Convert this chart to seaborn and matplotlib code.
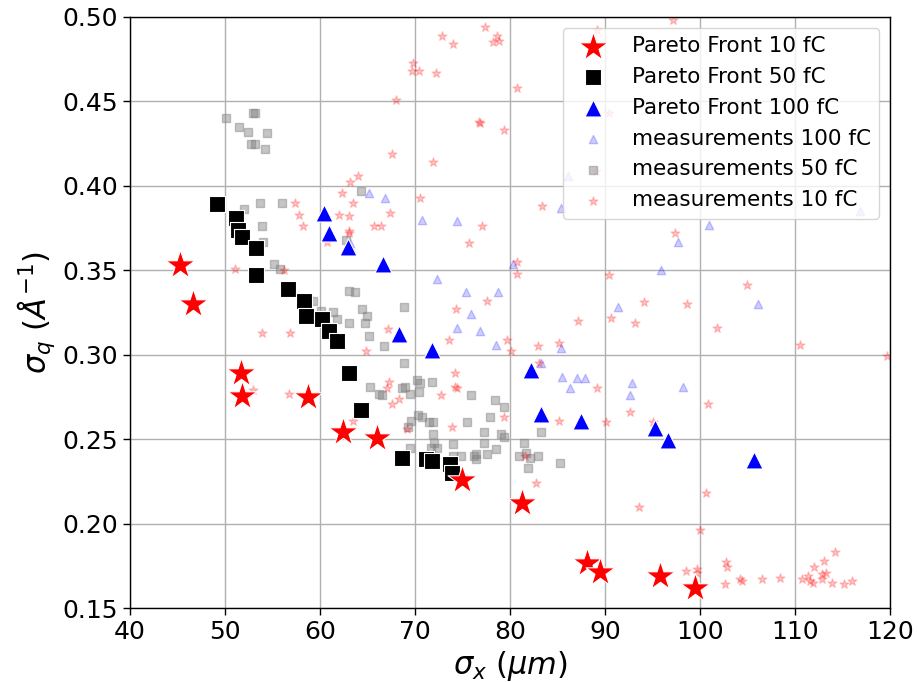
import matplotlib
matplotlib.use("Agg")
import matplotlib.pyplot as plt
import numpy as np
import pandas as pd
import seaborn as sns

# Pareto fronts (sigma_x in um, sigma_q in 1/A)
pareto10_x = [45.3, 46.6, 51.7, 51.8, 58.7, 62.4, 66.0, 74.9, 81.3, 88.1, 89.5, 95.8, 99.5]
pareto10_y = [0.353, 0.330, 0.289, 0.2756, 0.275, 0.254, 0.2507, 0.2258, 0.2122, 0.1767, 0.1713, 0.169, 0.1619]

pareto50_x = [49.2, 51.2, 51.4, 51.8, 53.3, 53.3, 56.6, 58.3, 58.5, 60.2, 60.9, 61.8,
              63.1, 64.3, 68.6, 71.2, 71.8, 73.7, 73.9]
pareto50_y = [0.389, 0.381, 0.374, 0.370, 0.363, 0.347, 0.339, 0.332, 0.323, 0.321, 0.314, 0.308,
              0.289, 0.267, 0.239, 0.238, 0.237, 0.235, 0.230]

pareto100_x = [60.4, 61.0, 63.0, 66.6, 68.3, 71.8, 82.2, 83.3, 87.5, 95.3, 96.6, 105.7]
pareto100_y = [0.384, 0.372, 0.364, 0.354, 0.312, 0.303, 0.291, 0.265, 0.261, 0.2565, 0.2496, 0.2377]

# all measurements
meas50_x = [50.1, 51.5, 52.4, 52.9, 53.2, 54.4, 52.7, 53.2, 54.2, 52.0, 53.7, 56.0, 64.3, 53.9,
            54.0, 62.7, 55.2, 55.8, 59.3, 60.1, 61.4, 61.8, 63.1, 63.7, 64.4, 64.9, 64.7, 63.1,
            65.2, 66.7, 68.8, 68.8, 65.3, 66.2, 68.6, 68.9, 69.5, 70.2, 70.5, 70.4, 71.8, 66.5,
            75.9, 78.4, 79.4, 70.3, 70.7, 69.6, 69.3, 71.5, 71.9, 75.5, 77.9, 71.9, 72.0, 71.7,
            72.3, 74.0, 77.3, 77.3, 78.5, 79.1, 79.4, 77.6, 76.4, 76.2, 76.4, 74.8, 69.5, 81.5,
            81.7, 82.1, 80.9, 82.9, 81.9, 83.3, 85.3, 74.0, 68.6]
meas50_y = [0.440, 0.435, 0.432, 0.443, 0.443, 0.431, 0.425, 0.425, 0.422, 0.386, 0.390, 0.390, 0.397, 0.376,
            0.367, 0.368, 0.354, 0.351, 0.332, 0.326, 0.325, 0.321, 0.338, 0.337, 0.327, 0.323, 0.319, 0.319,
            0.311, 0.305, 0.328, 0.295, 0.281, 0.277, 0.280, 0.281, 0.277, 0.285, 0.283, 0.278, 0.284, 0.276,
            0.276, 0.273, 0.269, 0.264, 0.263, 0.261, 0.257, 0.260, 0.260, 0.260, 0.263, 0.253, 0.248, 0.245,
            0.245, 0.247, 0.254, 0.248, 0.244, 0.253, 0.251, 0.241, 0.241, 0.240, 0.238, 0.240, 0.245, 0.248,
            0.242, 0.239, 0.240, 0.240, 0.233, 0.254, 0.236, 0.240, 0.239]

meas100_x = [65.2, 66.8, 70.7, 74.4, 86.1, 85.4, 80.3, 72.3, 75.4, 78.7, 75.9, 74.4, 76.8, 78.5,
             85.4, 83.3, 85.5, 87.1, 87.9, 86.3, 100.9, 97.7, 95.9, 91.4, 106.1, 92.8, 92.6, 98.2,
             116.8, 63.2]
meas100_y = [0.396, 0.393, 0.380, 0.379, 0.406, 0.387, 0.354, 0.345, 0.337, 0.337, 0.324, 0.316, 0.314, 0.306,
             0.304, 0.295, 0.287, 0.286, 0.286, 0.280, 0.377, 0.367, 0.350, 0.328, 0.330, 0.283, 0.276, 0.281,
             0.385, 0.366]

meas10_x = [64.0, 63.2, 62.3, 63.5, 57.4, 57.8, 58.2, 62.0, 63.1, 63.1, 63.1, 65.7, 66.4, 60.7,
            51.1, 56.2, 53.9, 56.8, 64.8, 56.7, 52.9, 77.4, 72.8, 74.0, 78.6, 78.2, 78.8, 69.8,
            69.7, 70.4, 72.2, 80.7, 68.0, 76.7, 76.8, 79.4, 67.6, 71.9, 70.5, 83.4, 67.4, 77.1,
            89.2, 90.4, 89.1, 97.2, 75.7, 80.7, 80.7, 77.6, 74.3, 87.2, 67.2, 73.6, 79.7, 80.1,
            82.9, 85.2, 74.2, 83.1, 67.3, 67.1, 68.3, 67.6, 74.2, 74.4, 72.7, 89.2, 79.4, 73.9,
            69.2, 85.2, 81.6, 82.7, 63.5, 97.4, 90.4, 104.9, 94.1, 98.6, 90.6, 93.2, 101.8, 110.5,
            119.7, 90.1, 92.6, 95.1, 100.8, 100.6, 93.6, 100.0, 114.2, 113.1, 112.0, 102.7, 102.8,
            99.7, 98.5, 113.3, 112.8, 111.4, 110.7, 111.6, 111.9, 112.8, 113.9, 115.2, 116.0, 108.4,
            106.5, 104.2, 104.4, 102.6, 99.7]
meas10_y = [0.406, 0.402, 0.396, 0.390, 0.390, 0.383, 0.376, 0.383, 0.382, 0.373, 0.372, 0.376, 0.376, 0.367,
            0.351, 0.350, 0.313, 0.313, 0.302, 0.277, 0.279, 0.494, 0.489, 0.484, 0.489, 0.485, 0.486, 0.473,
            0.468, 0.468, 0.467, 0.458, 0.451, 0.438, 0.437, 0.433, 0.419, 0.414, 0.393, 0.388, 0.384, 0.376,
            0.492, 0.443, 0.409, 0.498, 0.366, 0.355, 0.348, 0.332, 0.327, 0.320, 0.315, 0.309, 0.309, 0.302,
            0.305, 0.307, 0.289, 0.295, 0.284, 0.280, 0.274, 0.271, 0.281, 0.280, 0.276, 0.280, 0.263, 0.257,
            0.256, 0.261, 0.240, 0.224, 0.261, 0.372, 0.347, 0.341, 0.331, 0.330, 0.322, 0.319, 0.316, 0.306,
            0.299, 0.260, 0.266, 0.260, 0.271, 0.218, 0.210, 0.196, 0.183, 0.178, 0.174, 0.177, 0.174,
            0.173, 0.172, 0.171, 0.170, 0.169, 0.167, 0.166, 0.165, 0.167, 0.165, 0.164, 0.166, 0.168,
            0.167, 0.167, 0.166, 0.164, 0.171]

x_ticks = [40, 50, 60, 70, 80, 90, 100, 110, 120]
y_ticks = [0.15, 0.20, 0.25, 0.30, 0.35, 0.40, 0.45, 0.50]

sns.set_style("whitegrid", {
    "axes.edgecolor": "black",
    "axes.labelcolor": "black",
    "text.color": "black",
    "xtick.color": "black",
    "ytick.color": "black",
    "grid.color": "#b0b0b0",
    "xtick.bottom": True,
    "ytick.left": True,
})
plt.rcParams["font.family"] = ["DejaVu Sans"]

fig = plt.figure(figsize=(9.2, 6.82), dpi=100)
ax = fig.add_axes([0.1413, 0.1085, 0.8261, 0.8666])

sns.scatterplot(x=meas100_x, y=meas100_y, marker="^", s=36, color="blue", alpha=0.2,
                edgecolor="blue", linewidth=1.0, ax=ax, zorder=2, label="measurements 100 fC")
sns.scatterplot(x=meas50_x, y=meas50_y, marker="s", s=30, color="gray", alpha=0.45,
                edgecolor="gray", linewidth=1.0, ax=ax, zorder=2, label="measurements 50 fC")
sns.scatterplot(x=meas10_x, y=meas10_y, marker="*", s=45, color="red", alpha=0.22,
                edgecolor="red", linewidth=1.0, ax=ax, zorder=2, label="measurements 10 fC")
sns.scatterplot(x=pareto100_x, y=pareto100_y, marker="^", s=150, color="blue",
                edgecolor="white", linewidth=0.8, ax=ax, zorder=3, label="Pareto Front 100 fC")
sns.scatterplot(x=pareto50_x, y=pareto50_y, marker="s", s=140, color="black",
                edgecolor="white", linewidth=0.8, ax=ax, zorder=3, label="Pareto Front 50 fC")
sns.scatterplot(x=pareto10_x, y=pareto10_y, marker="*", s=480, color="red",
                edgecolor="white", linewidth=0.8, ax=ax, zorder=4, label="Pareto Front 10 fC")

ax.set_xlim(40, 120)
ax.set_ylim(0.15, 0.50)
ax.set_xticks(x_ticks)
ax.set_yticks(y_ticks)
ax.set_yticklabels([f"{v:.2f}" for v in y_ticks])
ax.tick_params(labelsize=18, length=5, width=1, color="black", labelcolor="black")
ax.grid(True, color="#b0b0b0", linewidth=1.0)
for spine in ax.spines.values():
    spine.set_color("black")
    spine.set_linewidth(1.0)

ax.set_xlabel(r"$\sigma_x$ $(\mu m)$", fontsize=22, color="black")
ax.set_ylabel(r"$\sigma_q$ $(\AA^{-1})$", fontsize=22, color="black")

handles, labels = ax.get_legend_handles_labels()
order = ["Pareto Front 10 fC", "Pareto Front 50 fC", "Pareto Front 100 fC",
         "measurements 100 fC", "measurements 50 fC", "measurements 10 fC"]
lookup = dict(zip(labels, handles))
leg = ax.legend([lookup[k] for k in order], order, loc="upper right", fontsize=15.5,
                frameon=True, framealpha=0.8, edgecolor="#cccccc", fancybox=True)
for t in leg.get_texts():
    t.set_color("black")

fig.savefig("out.png", dpi=100)
